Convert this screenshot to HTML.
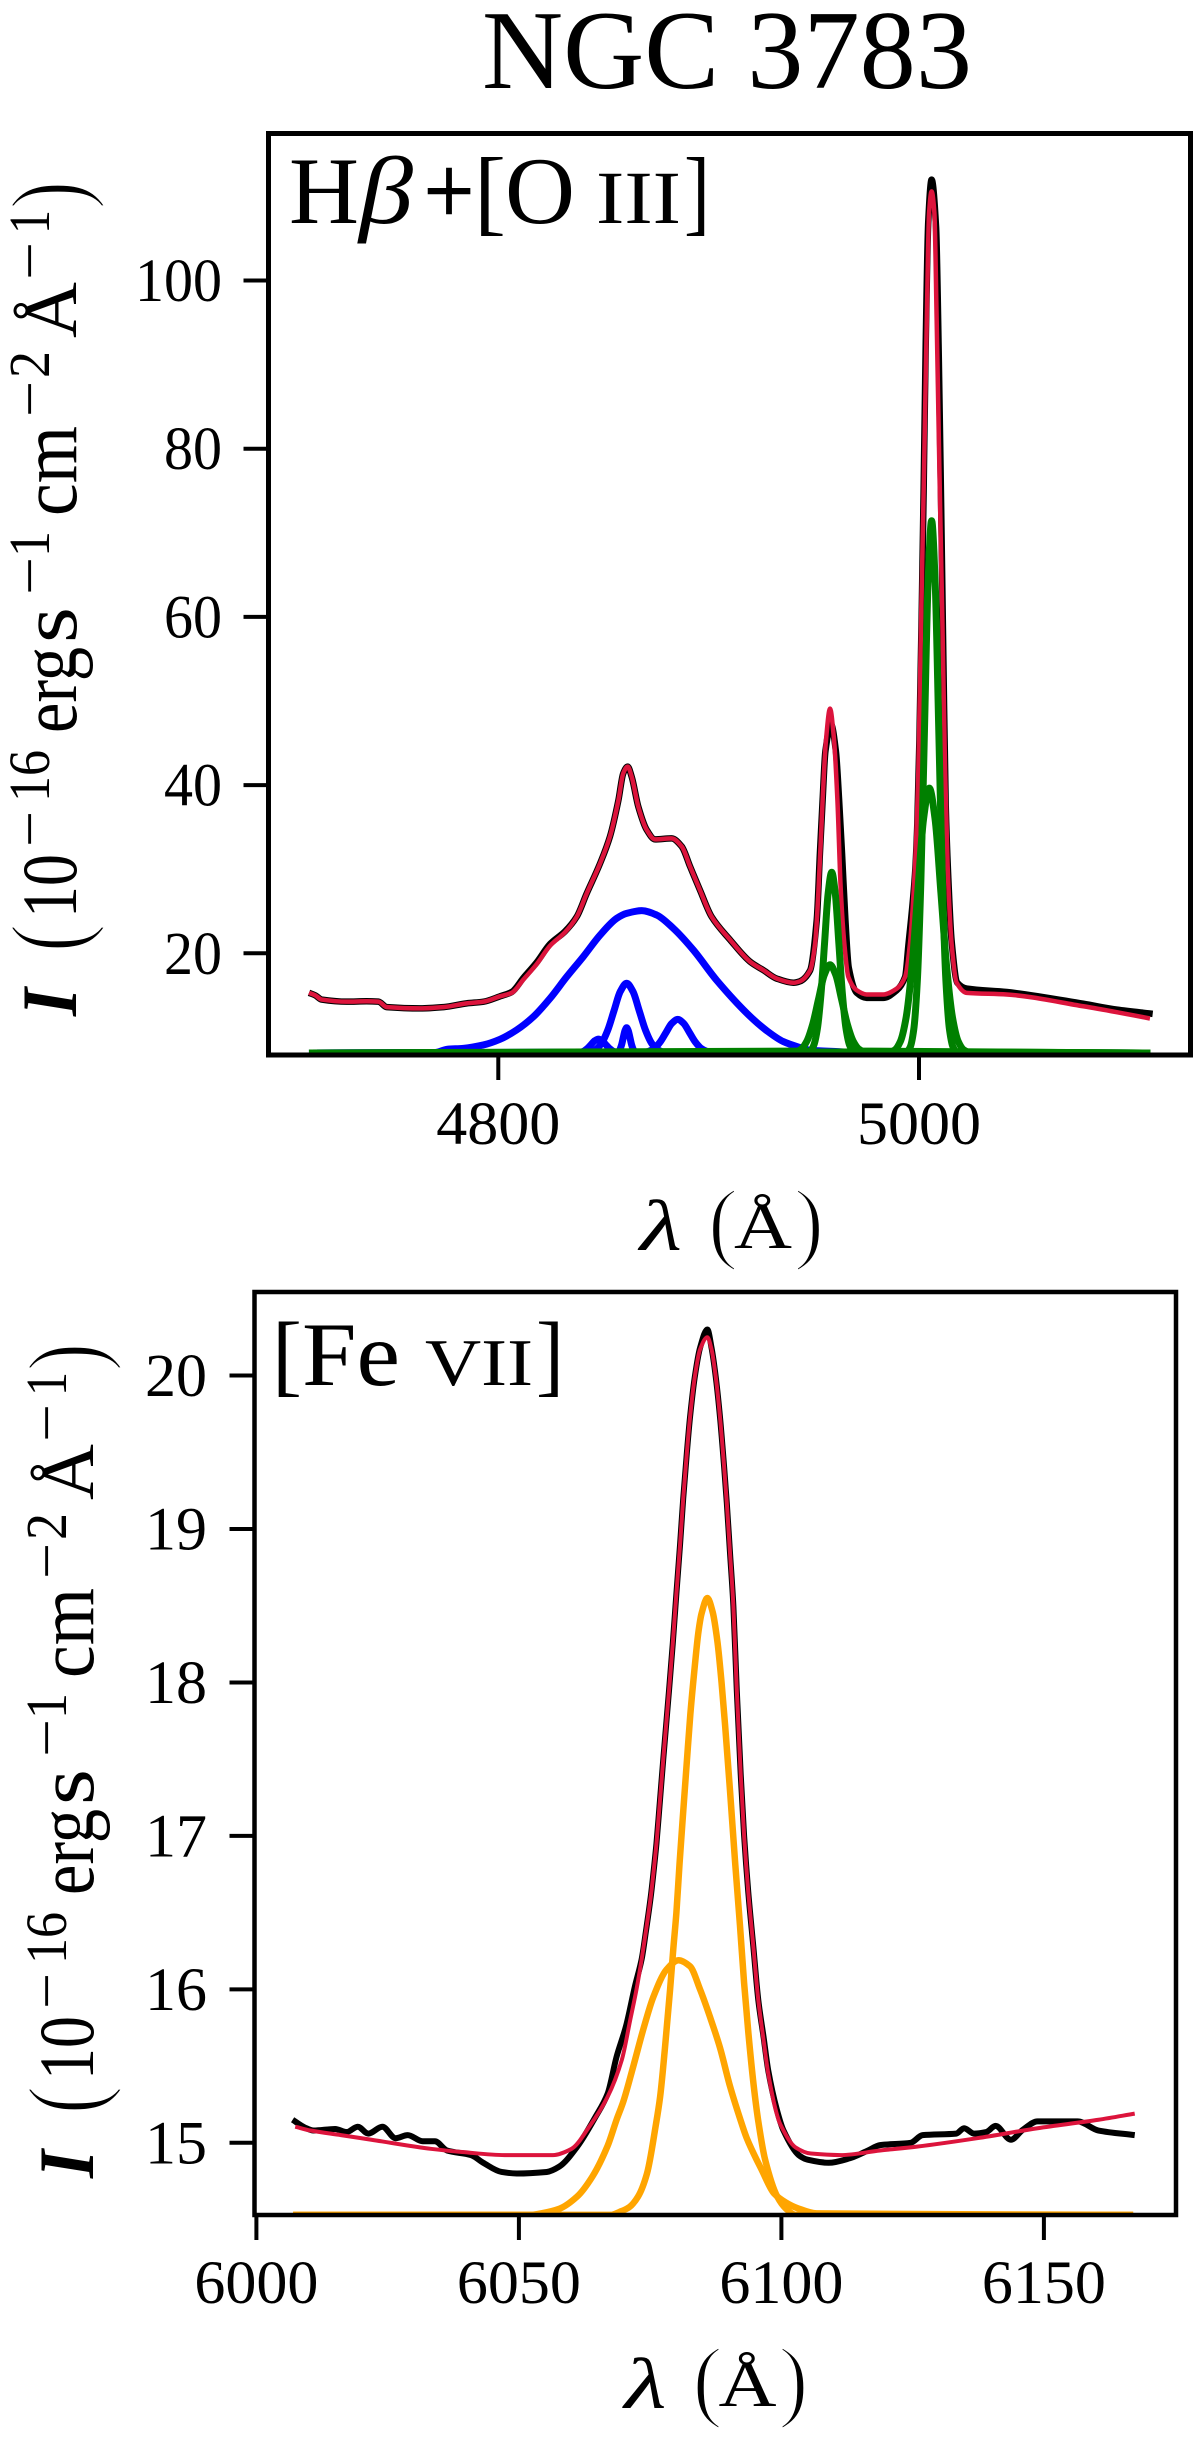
<!DOCTYPE html>
<html lang="en">
<head>
<meta charset="utf-8">
<title>NGC 3783 spectra</title>
<style>
html,body{margin:0;padding:0;background:#fff;}
svg{display:block;}
text{font-family:"Liberation Serif","DejaVu Serif",serif;fill:#000;}
.thin{stroke:#fff;stroke-width:2.4px;}
</style>
</head>
<body>
<svg id="fig" xmlns="http://www.w3.org/2000/svg" width="1200" height="2439" viewBox="0 0 1200 2439">
<defs>
<clipPath id="clip-top"><rect x="268.5" y="133.5" width="922" height="921.5"/></clipPath>
<clipPath id="clip-bottom"><rect x="254.5" y="1292" width="921.5" height="923"/></clipPath>
</defs>
<rect width="1200" height="2439" fill="#fff"/>
<text x="727" y="88" font-size="112" text-anchor="middle" textLength="490" lengthAdjust="spacingAndGlyphs">NGC 3783</text>

<g id="top-marks" clip-path="url(#clip-top)"></g>
<g id="top-ticks"></g>
<rect x="268.5" y="133.5" width="922" height="921.5" fill="none" stroke="#000" stroke-width="5"/>

<g>
<text x="289" y="223" font-size="95" textLength="70" lengthAdjust="spacingAndGlyphs">H</text>
<text x="359" y="223" font-size="95" font-style="italic" textLength="54" lengthAdjust="spacingAndGlyphs">β</text>
<text x="424" y="223" font-size="96" textLength="50" lengthAdjust="spacingAndGlyphs" stroke="#000" stroke-width="1.5">+</text>
<text x="474" y="223" font-size="95" textLength="32" lengthAdjust="spacingAndGlyphs">[</text>
<text x="505" y="223" font-size="95" textLength="70" lengthAdjust="spacingAndGlyphs">O</text>
<text x="596" y="223" font-size="75" textLength="85" lengthAdjust="spacingAndGlyphs">III</text>
<text x="684" y="223" font-size="95" textLength="26" lengthAdjust="spacingAndGlyphs">]</text>
</g>

<g>
<text x="640" y="1250" font-size="72" font-style="italic" textLength="42" lengthAdjust="spacingAndGlyphs">λ</text>
<text class="thin" x="708" y="1252" font-size="91" textLength="30" lengthAdjust="spacingAndGlyphs">(</text>
<text x="734" y="1248" font-size="66" textLength="58" lengthAdjust="spacingAndGlyphs">Å</text>
<text class="thin" x="794" y="1252" font-size="91" textLength="30" lengthAdjust="spacingAndGlyphs">)</text>
</g>

<g>
<text transform="translate(76,1016) rotate(-90)" font-size="78" font-style="italic" font-weight="bold" textLength="28" lengthAdjust="spacingAndGlyphs">I</text>
<text class="thin" transform="translate(83,952) rotate(-90)" font-size="105" textLength="28" lengthAdjust="spacingAndGlyphs">(</text>
<text transform="translate(76,918) rotate(-90)" font-size="78" textLength="64" lengthAdjust="spacingAndGlyphs">10</text>
<text transform="translate(49,847) rotate(-90)" font-size="58" textLength="36" lengthAdjust="spacingAndGlyphs">−</text>
<text transform="translate(49,802) rotate(-90)" font-size="58" textLength="52" lengthAdjust="spacingAndGlyphs">16</text>
<text transform="translate(76,733) rotate(-90)" font-size="80" textLength="86" lengthAdjust="spacingAndGlyphs">erg</text>
<text transform="translate(76,643) rotate(-90)" font-size="80" textLength="36" lengthAdjust="spacingAndGlyphs">s</text>
<text transform="translate(49,595) rotate(-90)" font-size="58" textLength="38" lengthAdjust="spacingAndGlyphs">−</text>
<text transform="translate(49,557) rotate(-90)" font-size="58" textLength="26" lengthAdjust="spacingAndGlyphs">1</text>
<text transform="translate(76,516) rotate(-90)" font-size="80" textLength="90" lengthAdjust="spacingAndGlyphs">cm</text>
<text transform="translate(49,417) rotate(-90)" font-size="58" textLength="36" lengthAdjust="spacingAndGlyphs">−</text>
<text transform="translate(49,378) rotate(-90)" font-size="58" textLength="27" lengthAdjust="spacingAndGlyphs">2</text>
<text transform="translate(76,338) rotate(-90)" font-size="76" textLength="56" lengthAdjust="spacingAndGlyphs">Å</text>
<text transform="translate(49,280) rotate(-90)" font-size="58" textLength="38" lengthAdjust="spacingAndGlyphs">−</text>
<text transform="translate(49,234) rotate(-90)" font-size="58" textLength="24" lengthAdjust="spacingAndGlyphs">1</text>
<text class="thin" transform="translate(83,209) rotate(-90)" font-size="105" textLength="28" lengthAdjust="spacingAndGlyphs">)</text>
</g>

<g id="bottom-marks" clip-path="url(#clip-bottom)"></g>
<g id="bottom-ticks"></g>
<rect x="254.5" y="1292" width="921.5" height="923" fill="none" stroke="#000" stroke-width="4.5"/>

<g>
<text x="272" y="1385" font-size="91" textLength="30" lengthAdjust="spacingAndGlyphs">[</text>
<text x="302" y="1385" font-size="91" textLength="98" lengthAdjust="spacingAndGlyphs">Fe</text>
<text x="425" y="1385" font-size="67" textLength="108" lengthAdjust="spacingAndGlyphs">VII</text>
<text x="536" y="1385" font-size="91" textLength="28" lengthAdjust="spacingAndGlyphs">]</text>
</g>

<g transform="translate(-15.5,1158)">
<text x="640" y="1250" font-size="72" font-style="italic" textLength="42" lengthAdjust="spacingAndGlyphs">λ</text>
<text class="thin" x="708" y="1252" font-size="91" textLength="30" lengthAdjust="spacingAndGlyphs">(</text>
<text x="734" y="1248" font-size="66" textLength="58" lengthAdjust="spacingAndGlyphs">Å</text>
<text class="thin" x="794" y="1252" font-size="91" textLength="30" lengthAdjust="spacingAndGlyphs">)</text>
</g>

<g transform="translate(17,1162)">
<text transform="translate(76,1016) rotate(-90)" font-size="78" font-style="italic" font-weight="bold" textLength="28" lengthAdjust="spacingAndGlyphs">I</text>
<text class="thin" transform="translate(83,952) rotate(-90)" font-size="105" textLength="28" lengthAdjust="spacingAndGlyphs">(</text>
<text transform="translate(76,918) rotate(-90)" font-size="78" textLength="64" lengthAdjust="spacingAndGlyphs">10</text>
<text transform="translate(49,847) rotate(-90)" font-size="58" textLength="36" lengthAdjust="spacingAndGlyphs">−</text>
<text transform="translate(49,802) rotate(-90)" font-size="58" textLength="52" lengthAdjust="spacingAndGlyphs">16</text>
<text transform="translate(76,733) rotate(-90)" font-size="80" textLength="86" lengthAdjust="spacingAndGlyphs">erg</text>
<text transform="translate(76,643) rotate(-90)" font-size="80" textLength="36" lengthAdjust="spacingAndGlyphs">s</text>
<text transform="translate(49,595) rotate(-90)" font-size="58" textLength="38" lengthAdjust="spacingAndGlyphs">−</text>
<text transform="translate(49,557) rotate(-90)" font-size="58" textLength="26" lengthAdjust="spacingAndGlyphs">1</text>
<text transform="translate(76,516) rotate(-90)" font-size="80" textLength="90" lengthAdjust="spacingAndGlyphs">cm</text>
<text transform="translate(49,417) rotate(-90)" font-size="58" textLength="36" lengthAdjust="spacingAndGlyphs">−</text>
<text transform="translate(49,378) rotate(-90)" font-size="58" textLength="27" lengthAdjust="spacingAndGlyphs">2</text>
<text transform="translate(76,338) rotate(-90)" font-size="76" textLength="56" lengthAdjust="spacingAndGlyphs">Å</text>
<text transform="translate(49,280) rotate(-90)" font-size="58" textLength="38" lengthAdjust="spacingAndGlyphs">−</text>
<text transform="translate(49,234) rotate(-90)" font-size="58" textLength="24" lengthAdjust="spacingAndGlyphs">1</text>
<text class="thin" transform="translate(83,209) rotate(-90)" font-size="105" textLength="28" lengthAdjust="spacingAndGlyphs">)</text>
</g>
</svg>

<script>
// ---- Top panel data (H-beta + [O III]) ----
const topXTicks = [4800, 5000];
const topYTicks = [20, 40, 60, 80, 100];

const topObservedWave = [4710,4713,4716,4728,4737.4,4743,4747,4763,4774,4785,4793,4801,4806.4,4812,4818.2,4824.6,4831.7,4837.3,4842,4848.4,4853.1,4857.1,4859.4,4861.5,4863.4,4866.6,4870.5,4874.5,4882.4,4887.2,4891.2,4895.9,4901.4,4910.2,4919.7,4926,4932.3,4940.3,4943.4,4948.2,4951.4,4952.9,4954.2,4955.5,4958.2,4960.5,4962,4963.4,4965,4966.6,4970.4,4975.1,4983,4989.4,4993.4,4994.9,4998.1,4999.2,5000.2,5001.3,5002.2,5003.2,5004.4,5006,5008.1,5009.4,5010.5,5011.6,5012.7,5013.8,5015.5,5018.2,5022.7,5041.7,5078.1,5094,5111.1];
const topObservedFlux = [15.3,15.0,14.5,14.25,14.3,14.25,13.6,13.45,13.6,14.05,14.25,14.9,15.4,17.1,18.9,21.1,22.6,24.35,27.1,30.7,33.9,38.2,41.4,42.2,41,37.4,34.7,33.55,33.67,32.7,30.3,27.5,24.35,21.6,19,18,17,16.5,16.67,17.95,24,31.9,38.3,44,47.2,44,38.3,31.9,24,18.3,15.3,14.7,14.7,15.6,17.2,20.8,29.4,35.4,45.4,60.7,75,92.5,107,112,106.4,91,73.6,54.7,37.6,29.7,21.5,16.5,15.8,15.4,14,13.3,12.8];

const topModelWave = [4710,4713,4716,4728,4737.4,4743,4747,4763,4774,4785,4793,4801,4806.4,4812,4818.2,4824.6,4831.7,4837.3,4842,4848.4,4853.1,4857.1,4859.4,4861.5,4863.4,4866.6,4870.5,4874.5,4882.4,4887.2,4891.2,4895.9,4901.4,4910.2,4919.7,4926,4932.3,4940.3,4943.4,4948.2,4950.6,4952.1,4954.2,4955.8,4957.7,4959.6,4961.2,4962.8,4964.5,4966.4,4970.4,4975.1,4983,4989.4,4993.4,4995.7,4998.1,4999.7,5001,5002.4,5003.7,5004.8,5006,5007.3,5008.4,5009.7,5011.1,5012.4,5013.6,5015.5,5017.9,5022.7,5041.7,5078.1,5094,5109.8];
const topModelFlux = [15.3,15.0,14.5,14.25,14.3,14.25,13.6,13.45,13.6,14.05,14.25,14.9,15.3,16.9,18.7,20.9,22.5,24.35,27.1,30.7,33.9,38.2,41.4,42.2,41,37.4,34.7,33.55,33.67,32.7,30.3,27.5,24.35,21.6,19,18,17,16.5,16.67,17.95,21.16,26.9,38.3,45.4,49.1,45.4,38.3,27.6,21.16,17.2,15.6,15.1,15.1,15.8,17.2,21.16,30.4,41.8,59.7,77.5,95.3,108.1,110.6,108.1,95.3,77.5,59.7,41.8,30.4,21.16,16.5,15.3,15.1,13.7,13,12.25];

const hbBroadWave = [4710,4770,4775.5,4783.4,4792.9,4800.8,4808.7,4816.7,4824.6,4832.5,4840.4,4848.4,4856.3,4861,4868.2,4875.3,4883.2,4892.7,4903.8,4919.7,4927.6,4935.5,4943.4,4948.2,4962.5,4975,5110];
const hbBroadFlux = [8.14,8.2,8.58,8.7,9.1,9.77,10.88,12.46,14.64,17.2,19.6,22.17,24.16,24.75,25.07,24.55,22.97,20.4,16.8,12.5,10.8,9.5,8.8,8.47,8.3,8.14,8.14];

const hbNarrowAWave = [4710,4843,4846,4849,4852,4855,4858,4861,4864,4867,4870,4873,4876,4879,5110];
const hbNarrowAFlux = [8.14,8.23,8.5,9.26,10.84,13.17,15.46,16.44,15.46,13.17,10.84,9.26,8.5,8.23,8.14];

const hbNarrowBWave = [4710,4857,4857.8,4858.6,4859.4,4860.2,4861,4861.8,4862.6,4863.4,4864.2,4865,5110];
const hbNarrowBFlux = [8.14,8.27,8.55,9.11,9.96,10.79,11.14,10.79,9.96,9.11,8.55,8.27,8.14];

const hbRedWingWave = [4710,4868.5,4871.3,4874.1,4876.9,4879.7,4882.5,4885.3,4888.1,4890.9,4893.7,4896.5,4899.3,4902.1,5110];
const hbRedWingFlux = [8.14,8.18,8.32,8.68,9.44,10.57,11.67,12.14,11.67,10.57,9.44,8.68,8.32,8.18,8.14];

const hbBlueWingWave = [4710,4838.85,4840.6,4842.35,4844.1,4845.85,4847.6,4849.35,4851.1,4852.85,4854.6,4856.35,5110];
const hbBlueWingFlux = [8.14,8.21,8.36,8.68,9.14,9.6,9.79,9.6,9.14,8.68,8.36,8.21,8.14];

const oiii4959CoreWave = [4710,4948.3,4950,4951.7,4953.4,4955.1,4956.8,4958.5,4960.2,4961.9,4963.6,4965.3,4967,4968.7,5110];
const oiii4959CoreFlux = [8.14,8.38,9.08,11.05,15.12,21.18,27.11,29.64,27.11,21.18,15.12,11.05,9.08,8.38,8.14];

const oiii4959WingWave = [4710,4941.2,4943.95,4946.7,4949.45,4952.2,4954.95,4957.7,4960.45,4963.2,4965.95,4968.7,4971.45,4974.2,5110];
const oiii4959WingFlux = [8.14,8.26,8.6,9.56,11.55,14.51,17.41,18.64,17.41,14.51,11.55,9.56,8.6,8.26,8.14];

const oiii5007CoreWave = [4710,4994.1,4995.8,4997.5,4999.2,5000.9,5002.6,5004.3,5006,5007.7,5009.4,5011.1,5012.8,5014.5,5016.2,5017.9,5110];
const oiii5007CoreFlux = [8.14,8.28,8.84,10.92,16.7,28.69,46.53,64.0,71.44,64.0,46.53,28.69,16.7,10.92,8.84,8.28,8.14];

const oiii5007WingWave = [4710,4985.65,4988.4,4991.15,4993.9,4996.65,4999.4,5002.15,5004.9,5007.65,5010.4,5013.15,5015.9,5018.65,5021.4,5024.15,5110];
const oiii5007WingFlux = [8.14,8.21,8.49,9.52,12.4,18.37,27.24,35.94,39.64,35.94,27.24,18.37,12.4,9.52,8.49,8.21,8.14];

// ---- Bottom panel data ([Fe VII]) ----
const bottomXTicks = [6000, 6050, 6100, 6150];
const bottomYTicks = [15, 16, 17, 18, 19, 20];

const feObservedWave = [6006.9,6009.2,6010.9,6015,6017.2,6019.3,6021.3,6024,6026.5,6028.8,6031.7,6034,6036.3,6040.9,6043.2,6046.7,6049.6,6055.3,6057.7,6061.1,6064.6,6066.9,6068.6,6070.4,6072.1,6073.4,6074.2,6075.1,6075.6,6076.2,6076.75,6077.5,6078.6,6079.3,6080,6080.7,6081.3,6082,6082.6,6083.5,6084.5,6085.9,6086.7,6087.5,6088.3,6089.1,6089.6,6090.2,6090.85,6091.5,6092.25,6092.9,6093.7,6094.65,6095.6,6096.6,6097.5,6099.1,6100.4,6103.3,6105,6109,6113.1,6116.5,6118.8,6124.6,6126.9,6133.3,6134.8,6136.7,6139,6140.8,6143.7,6146,6148.8,6156.4,6160.4,6167.3];
const feObservedFlux = [15.15,15.1,15.08,15.09,15.07,15.105,15.06,15.105,15.03,15.05,15.01,15.01,14.95,14.92,14.87,14.81,14.8,14.81,14.845,14.975,15.17,15.32,15.56,15.76,16.02,16.2,16.38,16.6,16.75,16.95,17.18,17.5,17.95,18.25,18.58,18.9,19.2,19.5,19.73,19.99,20.18,20.3,20.18,19.99,19.73,19.4,19.17,18.85,18.5,17.95,17.4,17.0,16.63,16.28,15.93,15.69,15.47,15.22,15.08,14.92,14.89,14.87,14.9,14.95,14.985,15,15.05,15.06,15.095,15.06,15.07,15.11,15.02,15.085,15.14,15.14,15.08,15.05];

const feModelWave = [6007.4,6010.3,6016.1,6021.9,6033.4,6039.2,6047.3,6056.5,6060,6063.4,6066.9,6069.6,6071.2,6072.4,6073.4,6074.2,6075.1,6075.6,6076.2,6076.75,6077.5,6078.6,6079.3,6080,6080.7,6081.3,6082,6082.6,6083.5,6084.5,6085.9,6086.7,6087.5,6088.3,6089.1,6089.6,6090.2,6090.85,6091.5,6092.25,6092.9,6093.7,6094.65,6095.6,6096.6,6097.5,6099.1,6099.8,6102.7,6105.6,6111.3,6118.8,6125.8,6137.3,6148.8,6160.4,6167.3];
const feModelFlux = [15.105,15.08,15.05,15.02,14.96,14.94,14.92,14.92,14.96,15.105,15.3,15.54,15.8,16.0,16.2,16.38,16.6,16.75,16.95,17.18,17.5,17.95,18.25,18.58,18.9,19.2,19.5,19.73,19.99,20.17,20.25,20.17,19.99,19.73,19.4,19.17,18.85,18.5,17.95,17.4,17.0,16.63,16.28,15.93,15.67,15.45,15.19,15.12,14.97,14.93,14.92,14.95,14.975,15.03,15.095,15.15,15.19];

const feNarrowWave = [6007,6067.5,6069.2,6071,6072.7,6074.4,6076.1,6076.9,6077.8,6078.8,6079.4,6080,6080.6,6081.3,6082,6082.65,6083.4,6084.2,6084.8,6085.9,6086.9,6087.8,6088.6,6089.3,6090.2,6091.2,6092.1,6092.9,6093.7,6094.7,6095.6,6096.9,6099.2,6100.9,6102.7,6167];
const feNarrowFlux = [14.53,14.53,14.55,14.58,14.65,14.8,15.12,15.3,15.61,16.0,16.26,16.5,16.82,17.16,17.49,17.79,18.07,18.33,18.45,18.55,18.46,18.27,18.0,17.71,17.3,16.82,16.42,16.04,15.72,15.38,15.14,14.89,14.65,14.57,14.53,14.53];

const feWideWave = [6007,6052,6054.2,6057.7,6061.1,6064,6066.9,6068.6,6069.9,6071.8,6073.7,6075.6,6078.15,6080.4,6082.6,6084.5,6086.4,6088.3,6090.2,6092.1,6093.4,6096.3,6098.6,6100.9,6103,6106.7,6167];
const feWideFlux = [14.53,14.53,14.54,14.57,14.65,14.78,14.98,15.15,15.27,15.5,15.74,15.95,16.13,16.19,16.15,16.0,15.82,15.62,15.37,15.16,15.03,14.82,14.67,14.61,14.575,14.54,14.53];

// ---- Axis functions ----
function topX(w){ return 498.3 + (w - 4800) * 2.1035; }
function topY(v){ return 953.3 - (v - 20) * 8.41; }
function bottomX(w){ return 256.4 + (w - 6000) * 5.25; }
function bottomY(v){ return 2142.8 - (v - 15) * 153.45; }

const SVGNS = 'http://www.w3.org/2000/svg';

// Monotone cubic curve through the mapped data points (no overshoot).
function smoothPath(px, py){
  const n = px.length;
  const delta = [];
  for (let i = 0; i < n - 1; i++) delta.push((py[i + 1] - py[i]) / (px[i + 1] - px[i]));
  const tan = [delta[0]];
  for (let i = 1; i < n - 1; i++) {
    if (delta[i - 1] * delta[i] <= 0) tan.push(0);
    else tan.push(2 * delta[i - 1] * delta[i] / (delta[i - 1] + delta[i]));
  }
  tan.push(delta[n - 2]);
  let d = 'M' + px[0].toFixed(2) + ' ' + py[0].toFixed(2);
  for (let i = 0; i < n - 1; i++) {
    const h = (px[i + 1] - px[i]) / 3;
    d += 'C' + (px[i] + h).toFixed(2) + ' ' + (py[i] + h * tan[i]).toFixed(2) + ' ' +
         (px[i + 1] - h).toFixed(2) + ' ' + (py[i + 1] - h * tan[i + 1]).toFixed(2) + ' ' +
         px[i + 1].toFixed(2) + ' ' + py[i + 1].toFixed(2);
  }
  return d;
}

function drawSeries(parent, waves, fluxes, xf, yf, color, width, seriesName){
  const line = document.createElementNS(SVGNS, 'path');
  
  
  line.setAttribute('d', smoothPath(waves.map(xf), fluxes.map(yf)));
  line.setAttribute('fill', 'none');
  line.setAttribute('stroke', color);
  line.setAttribute('stroke-width', width);
  line.setAttribute('stroke-linejoin', 'round');
  parent.appendChild(line);
}

function drawXTicks(parent, ticks, xf, bottom, tickLen, labelBase, labelLen, prefix){
  ticks.forEach(function(t){
    const mark = document.createElementNS(SVGNS, 'line');
    
    
    mark.setAttribute('x1', xf(t));
    mark.setAttribute('x2', xf(t));
    mark.setAttribute('y1', bottom);
    mark.setAttribute('y2', bottom + tickLen);
    mark.setAttribute('stroke', '#000');
    mark.setAttribute('stroke-width', 4);
    parent.appendChild(mark);
    const label = document.createElementNS(SVGNS, 'text');
    
    
    label.setAttribute('x', xf(t));
    label.setAttribute('y', labelBase);
    label.setAttribute('font-size', 61);
    label.setAttribute('text-anchor', 'middle');
    label.setAttribute('textLength', labelLen);
    label.setAttribute('lengthAdjust', 'spacingAndGlyphs');
    label.textContent = String(t);
    parent.appendChild(label);
  });
}

function drawYTicks(parent, ticks, yf, left, tickLen, labelRight, digitWidth, prefix){
  ticks.forEach(function(t){
    const mark = document.createElementNS(SVGNS, 'line');
    
    
    mark.setAttribute('x1', left - tickLen);
    mark.setAttribute('x2', left);
    mark.setAttribute('y1', yf(t));
    mark.setAttribute('y2', yf(t));
    mark.setAttribute('stroke', '#000');
    mark.setAttribute('stroke-width', 4);
    parent.appendChild(mark);
    const label = document.createElementNS(SVGNS, 'text');
    const str = String(t);
    const len = str.length * digitWidth;
    
    
    label.setAttribute('x', labelRight - len);
    label.setAttribute('y', yf(t) + 20.5);
    label.setAttribute('font-size', 61);
    label.setAttribute('textLength', len);
    label.setAttribute('lengthAdjust', 'spacingAndGlyphs');
    label.textContent = str;
    parent.appendChild(label);
  });
}

const topMarks = document.getElementById('top-marks');
const bottomMarks = document.getElementById('bottom-marks');

drawSeries(topMarks, topObservedWave, topObservedFlux, topX, topY, '#000000', 6.5, 'observed-spectrum-top');
drawSeries(topMarks, topModelWave, topModelFlux, topX, topY, '#dc143c', 4.5, 'model-fit-top');
drawSeries(topMarks, hbBroadWave, hbBroadFlux, topX, topY, '#0000ff', 7, 'hbeta-broad-component');
drawSeries(topMarks, hbNarrowAWave, hbNarrowAFlux, topX, topY, '#0000ff', 7, 'hbeta-intermediate-component');
drawSeries(topMarks, hbNarrowBWave, hbNarrowBFlux, topX, topY, '#0000ff', 7, 'hbeta-narrow-component');
drawSeries(topMarks, hbRedWingWave, hbRedWingFlux, topX, topY, '#0000ff', 7, 'hbeta-red-bump-component');
drawSeries(topMarks, hbBlueWingWave, hbBlueWingFlux, topX, topY, '#0000ff', 7, 'hbeta-blue-bump-component');
drawSeries(topMarks, oiii4959WingWave, oiii4959WingFlux, topX, topY, '#008000', 7, 'oiii-4959-wing-component');
drawSeries(topMarks, oiii4959CoreWave, oiii4959CoreFlux, topX, topY, '#008000', 7, 'oiii-4959-core-component');
drawSeries(topMarks, oiii5007WingWave, oiii5007WingFlux, topX, topY, '#008000', 7, 'oiii-5007-wing-component');
drawSeries(topMarks, oiii5007CoreWave, oiii5007CoreFlux, topX, topY, '#008000', 7, 'oiii-5007-core-component');

drawSeries(bottomMarks, feObservedWave, feObservedFlux, bottomX, bottomY, '#000000', 6, 'observed-spectrum-bottom');
drawSeries(bottomMarks, feModelWave, feModelFlux, bottomX, bottomY, '#dc143c', 4, 'model-fit-bottom');
drawSeries(bottomMarks, feNarrowWave, feNarrowFlux, bottomX, bottomY, '#ffa500', 6.5, 'fevii-narrow-component');
drawSeries(bottomMarks, feWideWave, feWideFlux, bottomX, bottomY, '#ffa500', 6.5, 'fevii-wide-component');

const topTicks = document.getElementById('top-ticks');
const bottomTicks = document.getElementById('bottom-ticks');
drawXTicks(topTicks, topXTicks, topX, 1055, 25, 1144, 124, 'top');
drawYTicks(topTicks, topYTicks, topY, 268.5, 25, 222, 29, 'top');
drawXTicks(bottomTicks, bottomXTicks, bottomX, 2215, 25, 2303, 124, 'bottom');
drawYTicks(bottomTicks, bottomYTicks, bottomY, 254.5, 25, 207, 31, 'bottom');
</script>
</body>
</html>
